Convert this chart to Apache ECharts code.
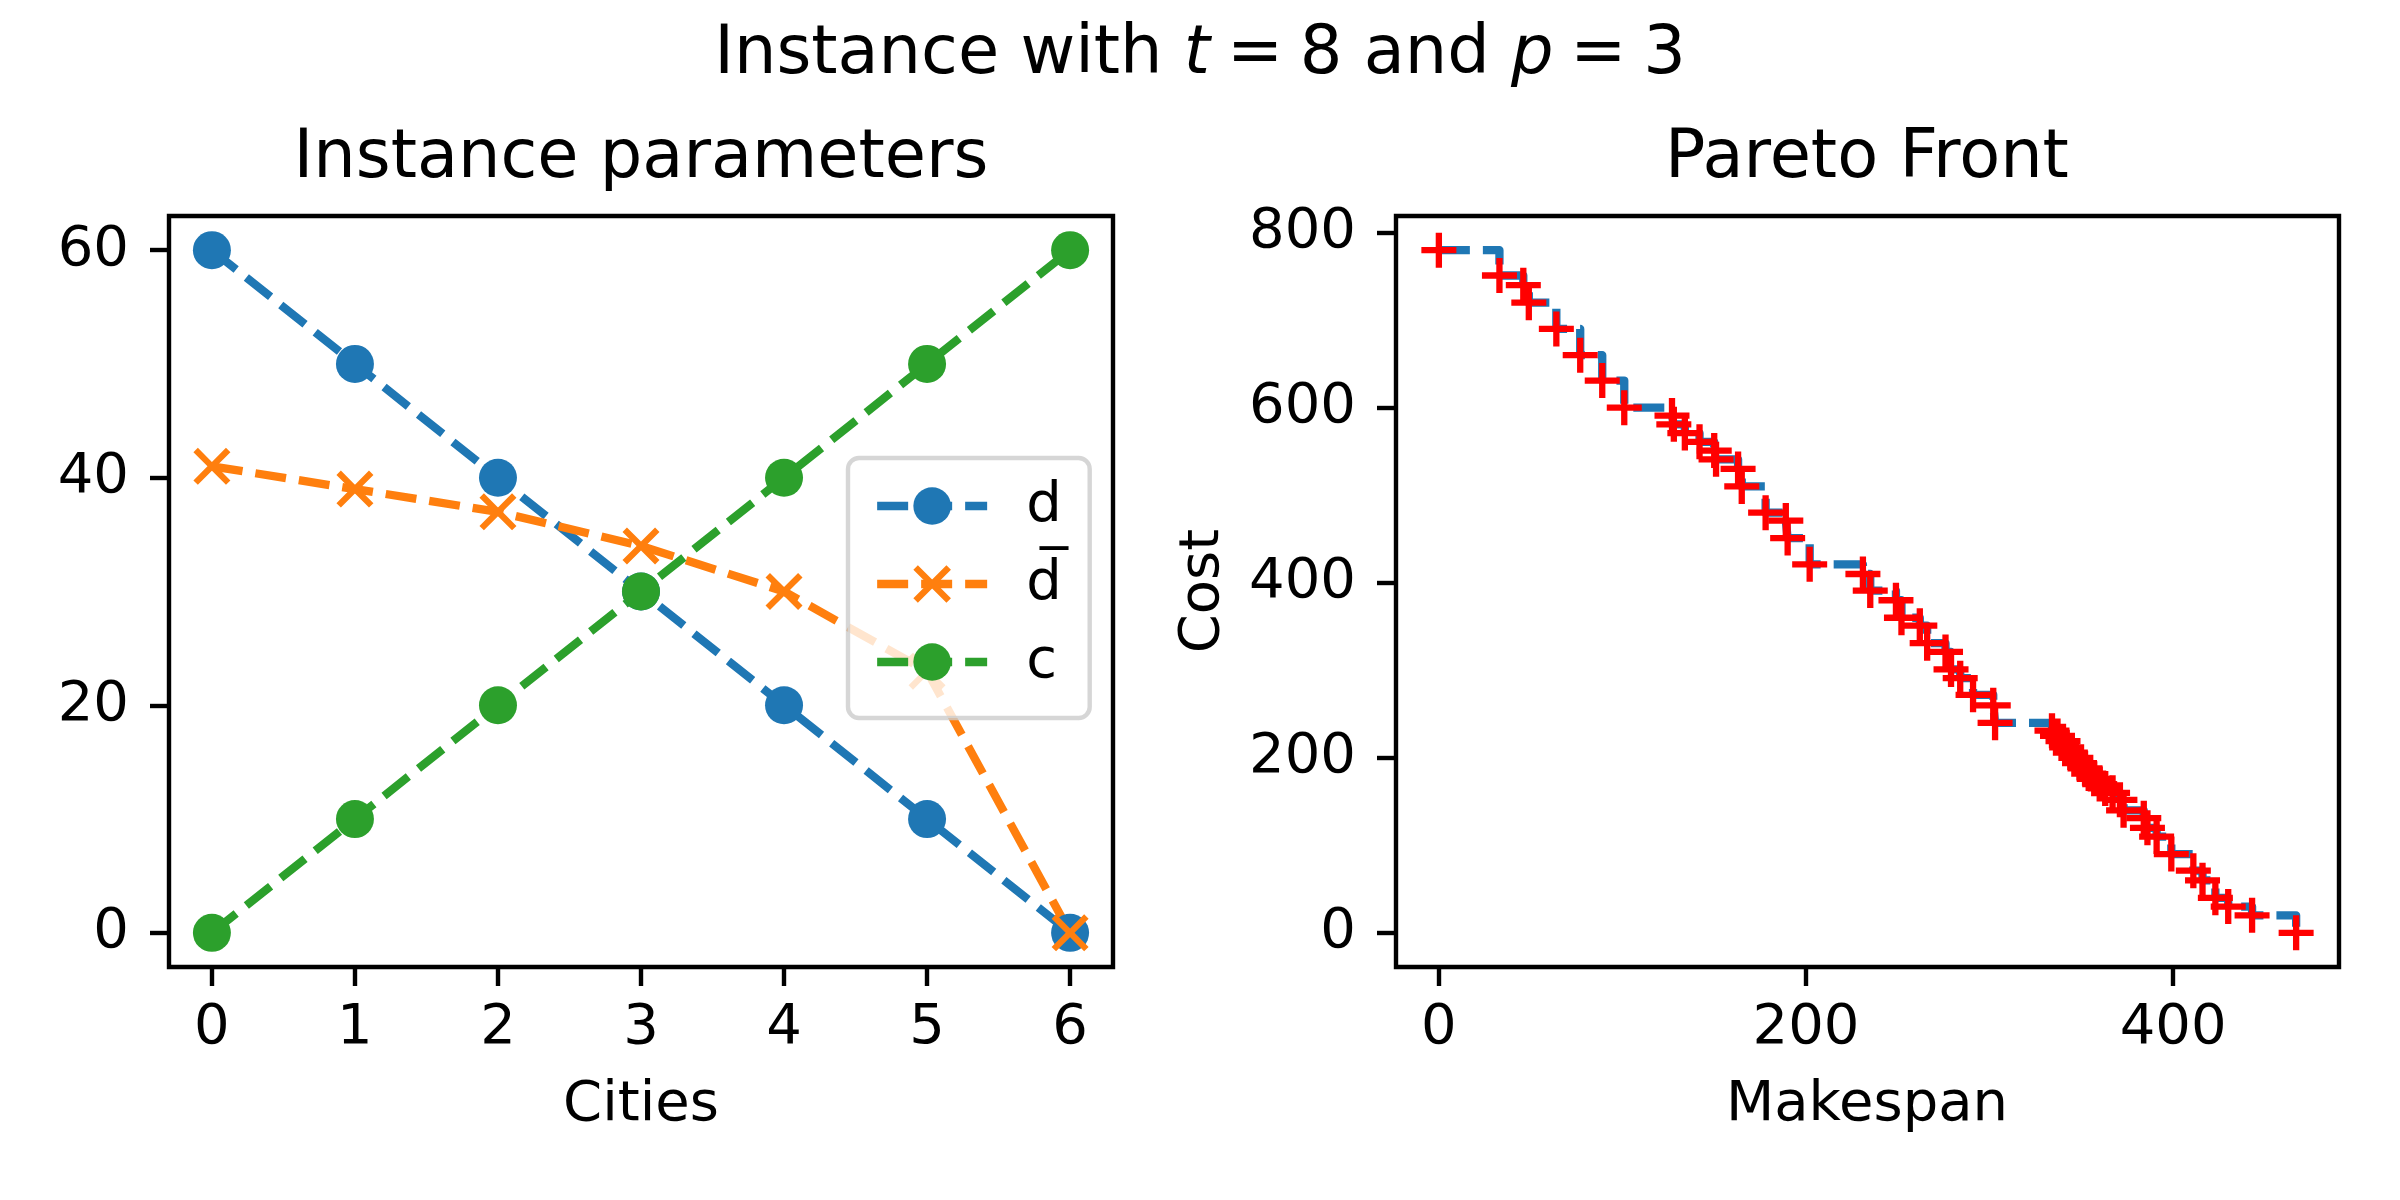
<!DOCTYPE html>
<html>
<head>
<meta charset="utf-8">
<script src="https://cdn.jsdelivr.net/npm/echarts@6/dist/echarts.min.js"></script>
<style>
  html, body { margin: 0; padding: 0; background: #fff; }
  #chart { width: 2400px; height: 1200px; }
</style>
</head>
<body>
<div id="chart"></div>
<script>
// left panel: instance parameters per city
const cities = [0, 1, 2, 3, 4, 5, 6];
const dValues = [60, 50, 40, 30, 20, 10, 0];
const dBarValues = [41, 39, 37, 34, 30, 23, 0];
const cValues = [0, 10, 20, 30, 40, 50, 60];
const leftYTicks = [0, 20, 40, 60];

// right panel: pareto front (makespan, cost)
const makespan = [0, 33, 46, 49, 64, 77, 89, 101, 127, 128, 134, 142, 150, 151, 163, 165,
  178, 189, 190, 202, 231, 235, 249, 252, 262, 266, 276, 279, 284, 291, 302, 303,
  334, 337, 340, 342, 344, 347, 349, 352, 354, 357, 360, 363, 367, 371, 373,
  384, 386, 391, 399, 411, 416, 423, 430, 443, 467];
const cost = [780, 751, 740, 720, 690, 660, 631, 600, 591, 581, 571, 561, 551, 541, 530, 510,
  480, 471, 451, 421, 410, 391, 380, 360, 351, 331, 321, 301, 291, 272, 260, 240,
  231, 225, 219, 212, 206, 200, 194, 188, 182, 176, 170, 165, 160, 152, 140,
  131, 120, 110, 90, 71, 60, 40, 30, 20, 0];
const rightXTicks = [0, 200, 400];
const rightYTicks = [0, 200, 400, 600, 800];

const FONT = 'DejaVu Sans';
const LW = 8.3;          // 1.5pt at 400 dpi
const DASH = [31, 13];
const FRAME = 4.4;
const BLUE = '#1f77b4', ORANGE = '#ff7f0e', GREEN = '#2ca02c';
const D_BAR = 'd\u0305';

const xMarker = 'path://M0,12 L12,0 L50,38 L88,0 L100,12 L62,50 L100,88 L88,100 L50,62 L12,100 L0,88 L38,50 Z';
const plusMarker = 'path://M41,0 L59,0 L59,41 L100,41 L100,59 L59,59 L59,100 L41,100 L41,59 L0,59 L0,41 L41,41 Z';

function valueAxis(idx, min, max, ticks, isX) {
  return {
    type: 'value',
    gridIndex: idx,
    min: min,
    max: max,
    axisLine: { show: false, onZero: false },
    splitLine: { show: false },
    axisTick: {
      show: true, inside: false, length: 19,
      lineStyle: { color: '#000', width: FRAME },
      customValues: ticks
    },
    axisLabel: {
      show: true, customValues: ticks,
      fontFamily: FONT, fontSize: 56, color: '#000',
      margin: isX ? 33 : 40
    }
  };
}

function dashedLine(name, data, color, symbol, size) {
  return {
    name: name,
    type: 'line',
    xAxisIndex: 0, yAxisIndex: 0,
    data: cities.map((c, i) => [c, data[i]]),
    symbol: symbol,
    symbolSize: size,
    showAllSymbol: true,
    color: color,
    itemStyle: { color: color },
    lineStyle: { color: color, width: LW, type: DASH, cap: 'butt', join: 'round' },
    animation: false
  };
}

const chart = echarts.init(document.getElementById('chart'), null, { renderer: 'canvas' });

chart.setOption({
  backgroundColor: '#fff',
  animation: false,
  grid: [
    { left: 169, top: 216, width: 944, height: 751, show: true, borderColor: '#000', borderWidth: FRAME, backgroundColor: 'transparent' },
    { left: 1396, top: 216, width: 943, height: 751, show: true, borderColor: '#000', borderWidth: FRAME, backgroundColor: 'transparent' }
  ],
  xAxis: [
    valueAxis(0, -0.3, 6.3, cities, true),
    valueAxis(1, -23.35, 490.35, rightXTicks, true)
  ],
  yAxis: [
    valueAxis(0, -3, 63, leftYTicks, false),
    valueAxis(1, -39, 819, rightYTicks, false)
  ],
  legend: {
    show: true,
    orient: 'vertical',
    left: 848, top: 458,
    data: ['d', D_BAR, 'c'],
    itemWidth: 110, itemHeight: 47,
    itemGap: 22,
    padding: [20, 28, 28, 25],
    backgroundColor: 'rgba(255,255,255,0.8)',
    borderColor: 'rgba(204,204,204,0.8)',
    borderWidth: 4.4,
    borderRadius: 11,
    lineStyle: { width: LW, type: DASH, cap: 'butt' },
    textStyle: { fontFamily: FONT, fontSize: 56, color: '#000', padding: [0, 0, 0, 34] },
    selectedMode: false
  },
  graphic: [
    {
      type: 'text', x: 1200, y: 56,
      style: {
        text: '{n|Instance with }{i|t}{n|\u2005=\u20058 and }{i|p}{n|\u2005=\u20053}',
        align: 'center', verticalAlign: 'middle',
        rich: {
          n: { fontFamily: FONT, fontSize: 67, fill: '#000' },
          i: { fontFamily: FONT, fontSize: 67, fontStyle: 'italic', fill: '#000' }
        }
      }
    },
    { type: 'text', x: 641, y: 160, style: { text: 'Instance parameters', font: '67px "DejaVu Sans"', fill: '#000', align: 'center', verticalAlign: 'middle' } },
    { type: 'text', x: 1867, y: 160, style: { text: 'Pareto Front', font: '67px "DejaVu Sans"', fill: '#000', align: 'center', verticalAlign: 'middle' } },
    { type: 'text', x: 641, y: 1105, style: { text: 'Cities', font: '56px "DejaVu Sans"', fill: '#000', align: 'center', verticalAlign: 'middle' } },
    { type: 'text', x: 1867, y: 1105, style: { text: 'Makespan', font: '56px "DejaVu Sans"', fill: '#000', align: 'center', verticalAlign: 'middle' } },
    { type: 'text', x: 1203, y: 591, rotation: Math.PI / 2, style: { text: 'Cost', font: '56px "DejaVu Sans"', fill: '#000', align: 'center', verticalAlign: 'middle' } }
  ],
  series: [
    dashedLine('d', dValues, BLUE, 'circle', 38),
    dashedLine(D_BAR, dBarValues, ORANGE, xMarker, 37),
    dashedLine('c', cValues, GREEN, 'circle', 38),
    {
      name: 'front',
      type: 'line',
      xAxisIndex: 1, yAxisIndex: 1,
      data: makespan.map((m, i) => [m, cost[i]]),
      step: 'end',
      symbol: 'none',
      lineStyle: { color: BLUE, width: LW, type: DASH, cap: 'butt', join: 'round' },
      animation: false
    },
    {
      name: 'points',
      type: 'scatter',
      xAxisIndex: 1, yAxisIndex: 1,
      data: makespan.map((m, i) => [m, cost[i]]),
      symbol: plusMarker,
      symbolSize: 35,
      itemStyle: { color: '#ff0000', opacity: 1 },
      z: 3,
      animation: false
    }
  ]
});
</script>
</body>
</html>
